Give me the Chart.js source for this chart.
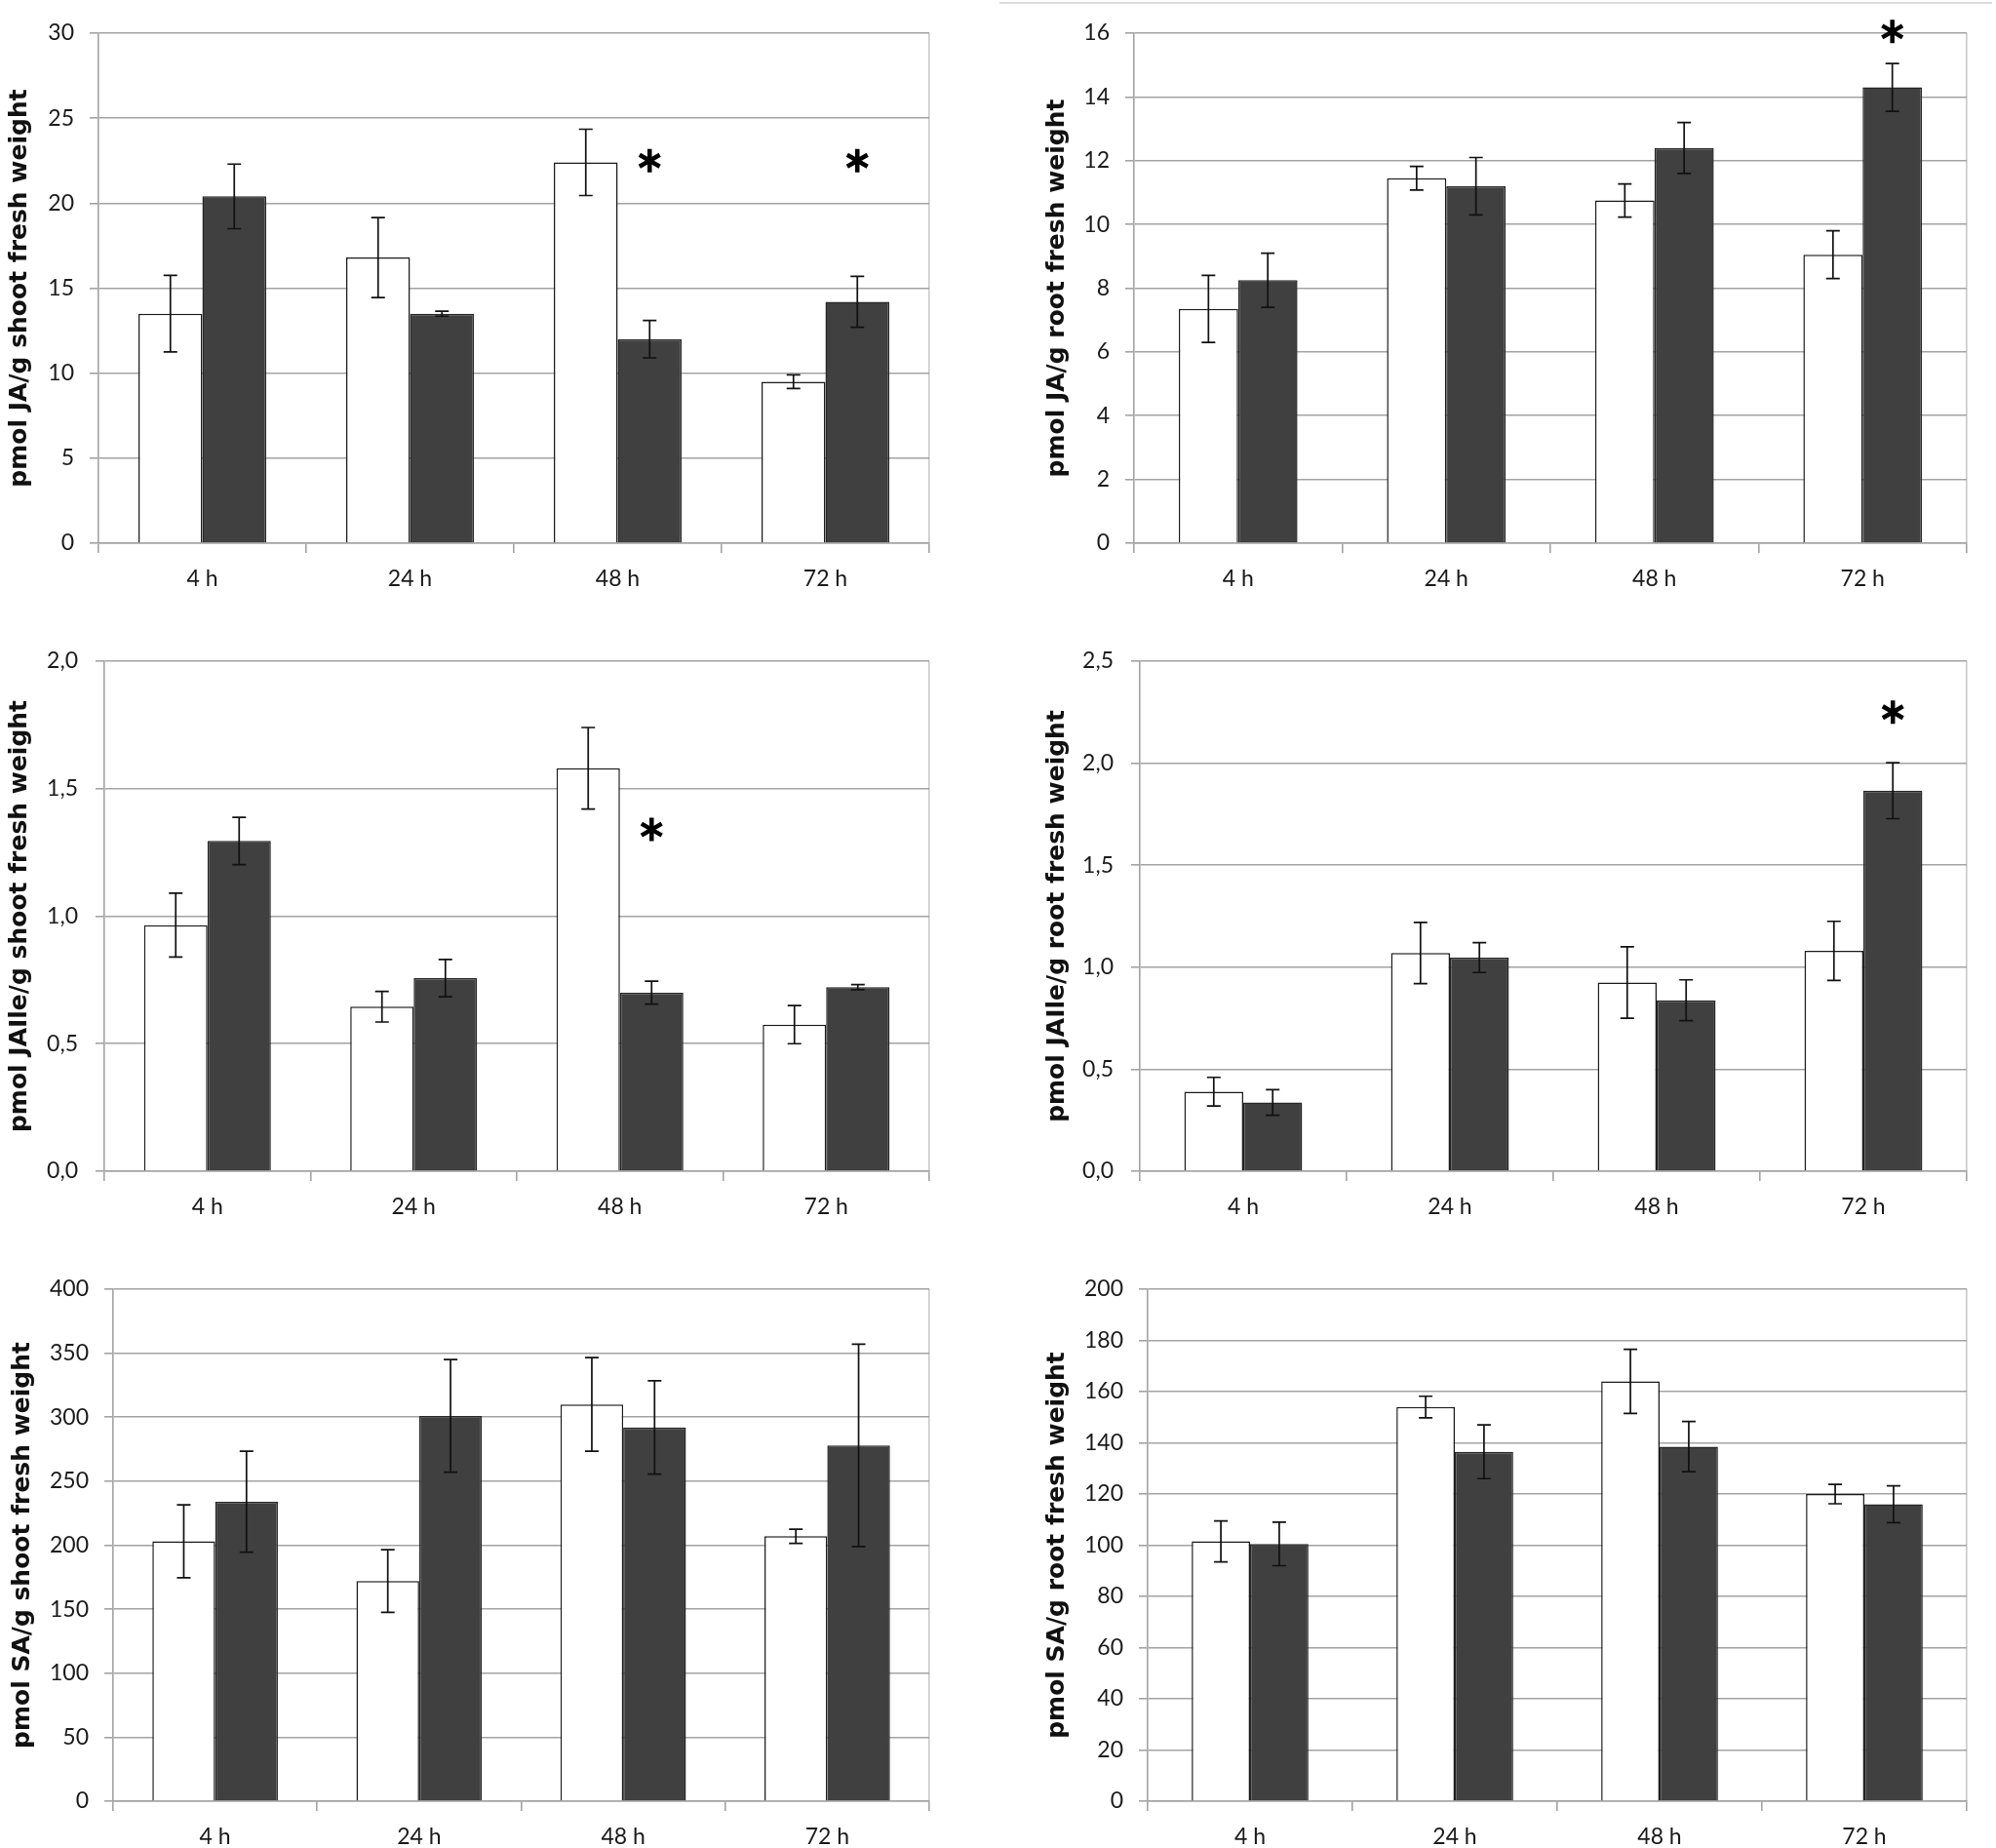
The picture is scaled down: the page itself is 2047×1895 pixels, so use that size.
<!DOCTYPE html>
<html>
<head>
<meta charset="utf-8">
<title>Hormone levels in shoots and roots</title>
<script src="https://cdn.jsdelivr.net/npm/chart.js@4.4.1/dist/chart.umd.min.js"></script>
<style>
  html, body { margin: 0; background: #fff; }
  body { width: 2047px; height: 1895px; position: relative; overflow: hidden; }
  canvas { position: absolute; }
  #topRule { position: absolute; left: 1025px; top: 2px; width: 1018px; border-top: 2px solid #e0dadd; }
</style>
</head>
<body>
<div id="topRule"></div>
<canvas id="jaShoot"    width="980" height="620" style="left:0;top:0"></canvas>
<canvas id="jaRoot"     width="983" height="620" style="left:1064px;top:0"></canvas>
<canvas id="ileShoot"   width="980" height="620" style="left:0;top:640px"></canvas>
<canvas id="ileRoot"    width="983" height="620" style="left:1064px;top:640px"></canvas>
<canvas id="saShoot"    width="980" height="615" style="left:0;top:1280px"></canvas>
<canvas id="saRoot"     width="983" height="615" style="left:1064px;top:1280px"></canvas>

<script>
/* ---- data ---- */
const HOURS = ['4 h', '24 h', '48 h', '72 h'];

// JA, shoots
const jaShootCtrl     = [13.5, 16.8, 22.4, 9.5];
const jaShootCtrlErr  = [2.25, 2.35, 1.95, 0.4];
const jaShootTreat    = [20.4, 13.5, 12.0, 14.2];
const jaShootTreatErr = [1.9, 0.15, 1.1, 1.5];
const jaShootStars    = [null, null, 22.5, 22.5];
const jaShootTicks    = ['0', '5', '10', '15', '20', '25', '30'];

// JA, roots
const jaRootCtrl     = [7.35, 11.45, 10.75, 9.05];
const jaRootCtrlErr  = [1.05, 0.37, 0.52, 0.75];
const jaRootTreat    = [8.25, 11.2, 12.4, 14.3];
const jaRootTreatErr = [0.85, 0.9, 0.8, 0.75];
const jaRootStars    = [null, null, null, 16.05];
const jaRootTicks    = ['0', '2', '4', '6', '8', '10', '12', '14', '16'];

// JA-Ile, shoots
const ileShootCtrl     = [0.965, 0.645, 1.58, 0.575];
const ileShootCtrlErr  = [0.125, 0.06, 0.16, 0.075];
const ileShootTreat    = [1.295, 0.757, 0.70, 0.722];
const ileShootTreatErr = [0.093, 0.073, 0.045, 0.01];
const ileShootStars    = [null, null, 1.34, null];
const ileShootTicks    = ['0,0', '0,5', '1,0', '1,5', '2,0'];

// JA-Ile, roots
const ileRootCtrl     = [0.39, 1.07, 0.925, 1.08];
const ileRootCtrlErr  = [0.07, 0.15, 0.175, 0.145];
const ileRootTreat    = [0.337, 1.047, 0.838, 1.865];
const ileRootTreatErr = [0.063, 0.073, 0.1, 0.137];
const ileRootStars    = [null, null, null, 2.25];
const ileRootTicks    = ['0,0', '0,5', '1,0', '1,5', '2,0', '2,5'];

// SA, shoots
const saShootCtrl     = [203, 172, 310, 207];
const saShootCtrlErr  = [28.5, 24.5, 36.5, 5.5];
const saShootTreat    = [234, 301, 292, 278];
const saShootTreatErr = [39.5, 44, 36.5, 79];
const saShootTicks    = ['0', '50', '100', '150', '200', '250', '300', '350', '400'];

// SA, roots
const saRootCtrl     = [101.5, 154, 164, 120];
const saRootCtrlErr  = [8, 4.2, 12.5, 3.8];
const saRootTreat    = [100.5, 136.5, 138.5, 116];
const saRootTreatErr = [8.5, 10.5, 9.8, 7.2];
const saRootTicks    = ['0', '20', '40', '60', '80', '100', '120', '140', '160', '180', '200'];

/* ---- look ---- */
const GRID = '#a3a3a3';
const EDGE = '#c9c9c9';
const INK  = '#1a1a1a';

Chart.defaults.font.family = 'Lato, "Open Sans", sans-serif';
Chart.defaults.color = INK;

// error bars: value +/- dataset.errors[i]
const errorBars = {
  id: 'errorBars',
  afterDatasetsDraw(chart) {
    const { ctx } = chart;
    const y = chart.scales.y;
    ctx.save();
    ctx.strokeStyle = '#111';
    ctx.lineWidth = 1.7;
    chart.data.datasets.forEach((ds, di) => {
      if (!ds.errors) return;
      chart.getDatasetMeta(di).data.forEach((bar, i) => {
        const v = ds.data[i], e = ds.errors[i];
        const top = y.getPixelForValue(v + e), bot = y.getPixelForValue(v - e);
        ctx.beginPath();
        ctx.moveTo(bar.x, top); ctx.lineTo(bar.x, bot);
        ctx.moveTo(bar.x - 7, top); ctx.lineTo(bar.x + 7, top);
        ctx.moveTo(bar.x - 7, bot); ctx.lineTo(bar.x + 7, bot);
        ctx.stroke();
      });
    });
    ctx.restore();
  }
};

// six-spoke significance asterisk at dataset.stars[i] on the y scale
const starMarks = {
  id: 'starMarks',
  afterDatasetsDraw(chart) {
    const { ctx } = chart;
    const y = chart.scales.y;
    ctx.save();
    ctx.strokeStyle = '#000';
    ctx.lineWidth = 4.5;
    ctx.lineCap = 'butt';
    chart.data.datasets.forEach((ds, di) => {
      if (!ds.stars) return;
      chart.getDatasetMeta(di).data.forEach((bar, i) => {
        if (ds.stars[i] == null) return;
        const cx = bar.x, cy = y.getPixelForValue(ds.stars[i]), r = 12;
        ctx.beginPath();
        [90, 30, 150].forEach(a => {
          const dx = r * Math.cos(a * Math.PI / 180), dy = r * Math.sin(a * Math.PI / 180);
          ctx.moveTo(cx - dx, cy - dy); ctx.lineTo(cx + dx, cy + dy);
        });
        ctx.stroke();
      });
    });
    ctx.restore();
  }
};

function panelChart(id, p) {
  const yMax = parseFloat(p.ticks[p.ticks.length - 1].replace(',', '.'));
  const yStep = parseFloat(p.ticks[1].replace(',', '.'));
  return new Chart(document.getElementById(id), {
    type: 'bar',
    data: {
      labels: HOURS,
      datasets: [
        { data: p.ctrl, errors: p.ctrlErr, backgroundColor: '#ffffff', borderColor: '#1a1a1a', borderWidth: 1.5 },
        { data: p.treat, errors: p.treatErr, stars: p.stars, backgroundColor: '#404040', borderColor: '#262626', borderWidth: 1.5 }
      ]
    },
    options: {
      responsive: false, animation: false, devicePixelRatio: 1,
      layout: { padding: { left: 0, top: p.top, right: p.right, bottom: 0 } },
      datasets: { bar: { categoryPercentage: p.catPct, barPercentage: 1 } },
      plugins: { legend: { display: false }, tooltip: { enabled: false } },
      scales: {
        x: {
          afterFit(s) { s.height = p.xHeight; },
          grid: {
            offset: true, tickLength: 10, lineWidth: 1.6, tickColor: GRID,
            // only the closing line at the right edge goes through the plot
            color: c => (c.type === 'scale' ? EDGE : 'rgba(0,0,0,0)')
          },
          border: { color: GRID, width: 1.6 },
          ticks: { font: { size: 23 }, padding: 13 }
        },
        y: {
          min: 0, max: yMax,
          afterFit(s) { s.width = p.yWidth; },
          grid: { color: GRID, lineWidth: 1.6, tickLength: 9 },
          border: { color: GRID, width: 1.6 },
          ticks: { stepSize: yStep, font: { size: 23 }, padding: p.tickPad,
                   callback: (v, i) => p.ticks[i] },
          title: { display: true, text: p.title, color: '#111',
                   font: { family: '"DejaVu Sans"', weight: 'bold', size: 25, lineHeight: 1.2 },
                   padding: { top: p.titlePad, bottom: 0 } }
        }
      }
    },
    plugins: [errorBars, starMarks]
  });
}

const LEFT  = { right: 27, catPct: 0.615, titlePad: 5 };
const RIGHT = { right: 30, catPct: 0.57,  titlePad: 5 };

panelChart('jaShoot', { ...LEFT, top: 34, yWidth: 101, xHeight: 63, tickPad: 16,
  title: 'pmol JA/g shoot fresh weight', ticks: jaShootTicks,
  ctrl: jaShootCtrl, ctrlErr: jaShootCtrlErr, treat: jaShootTreat, treatErr: jaShootTreatErr, stars: jaShootStars });

panelChart('jaRoot', { ...RIGHT, top: 34, yWidth: 99, xHeight: 63, tickPad: 16,
  title: 'pmol JA/g root fresh weight', ticks: jaRootTicks,
  ctrl: jaRootCtrl, ctrlErr: jaRootCtrlErr, treat: jaRootTreat, treatErr: jaRootTreatErr, stars: jaRootStars });

panelChart('ileShoot', { ...LEFT, top: 38, yWidth: 107, xHeight: 59, tickPad: 18,
  title: 'pmol JAIle/g shoot fresh weight', ticks: ileShootTicks,
  ctrl: ileShootCtrl, ctrlErr: ileShootCtrlErr, treat: ileShootTreat, treatErr: ileShootTreatErr, stars: ileShootStars });

panelChart('ileRoot', { ...RIGHT, top: 38, yWidth: 105, xHeight: 59, tickPad: 18,
  title: 'pmol JAIle/g root fresh weight', ticks: ileRootTicks,
  ctrl: ileRootCtrl, ctrlErr: ileRootCtrlErr, treat: ileRootTreat, treatErr: ileRootTreatErr, stars: ileRootStars });

panelChart('saShoot', { ...LEFT, top: 42, yWidth: 116, xHeight: 48, tickPad: 16, titlePad: 8,
  title: 'pmol SA/g shoot fresh weight', ticks: saShootTicks,
  ctrl: saShootCtrl, ctrlErr: saShootCtrlErr, treat: saShootTreat, treatErr: saShootTreatErr });

panelChart('saRoot', { ...RIGHT, top: 42, yWidth: 113, xHeight: 48, tickPad: 16,
  title: 'pmol SA/g root fresh weight', ticks: saRootTicks,
  ctrl: saRootCtrl, ctrlErr: saRootCtrlErr, treat: saRootTreat, treatErr: saRootTreatErr });
</script>
</body>
</html>
